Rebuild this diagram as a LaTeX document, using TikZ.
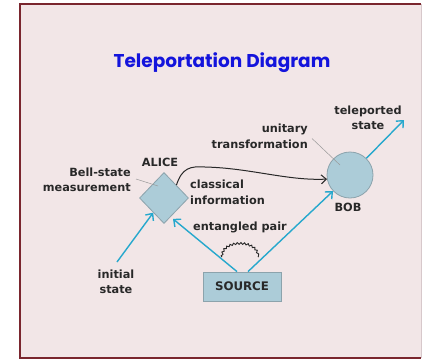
\documentclass[tikz,border=0pt]{standalone}
\usepackage{fontspec}
\setmainfont{DejaVu Sans}
\newfontfamily\titlefont{Poppins}
\usetikzlibrary{shapes.geometric,arrows.meta,decorations.pathmorphing,calc}

\definecolor{panel}{RGB}{242,230,231}
\definecolor{framered}{RGB}{122,38,46}
\definecolor{frameside}{RGB}{215,200,203}
\definecolor{qblue}{RGB}{38,168,205}
\definecolor{shapefill}{RGB}{172,204,216}
\definecolor{shapeedge}{RGB}{140,163,172}
\definecolor{ink}{RGB}{40,40,40}
\definecolor{titleblue}{RGB}{20,20,220}

\begin{document}
\begin{tikzpicture}[x=1pt,y=-1pt,
  lbl/.style={inner sep=0pt, text=ink, font=\bfseries\fontsize{11.3}{15.5}\selectfont},
  party/.style={fill=shapefill, draw=shapeedge, line width=0.8pt, inner sep=0pt},
  qarrow/.style={draw=qblue, line width=1.4pt,
    -{Straight Barb[length=5.5pt,width=10pt,line width=1.4pt]}},
  carrow/.style={draw=ink, line width=1pt,
    -{Straight Barb[length=5pt,width=9pt,line width=1pt]}},
  pointer/.style={draw=gray!80, line width=0.5pt}]

\useasboundingbox (0,0) rectangle (423,360);

% panel and its frame
\fill[panel] (20,4) rectangle (421,358);
\draw[frameside, line width=1pt] (421,4) -- (421,358);
\draw[framered, line width=2pt] (421,4) -- (20,4) -- (20,358) -- (421,358);

% title
\node[font=\titlefont\bfseries\fontsize{18.5}{18.5}\selectfont, text=titleblue]
  (title) at (222,63) {Teleportation Diagram};

% parties
\node[party, shape=diamond, minimum width=49pt, minimum height=51pt] (alice) at (164,198) {};
\node[party, circle, minimum size=46pt] (bob) at (350,175) {};
\node[party, rectangle, minimum width=78pt, minimum height=29pt,
      font=\bfseries\fontsize{11.8}{12}\selectfont, text=ink] (src) at (242,286.5) {SOURCE};

% labels
\node[lbl] (alicelbl) at (160,162) {ALICE};
\node[lbl] (boblbl) at (348,207) {BOB};
\node[lbl, align=right, anchor=east] (bell) at (131,180) {Bell-state\\measurement};
\node[lbl, align=left, anchor=west] (classical) at (190,192.5) {classical\\information};
\node[lbl] (pair) at (240,227) {entangled pair};
\node[lbl, align=right, anchor=east] (unitary) at (308,136.5) {unitary\\transformation};
\node[lbl, align=center] (teleported) at (368,118) {teleported\\state};
\node[lbl, align=center] (initial) at (116,282) {initial\\state};

% free ends of the quantum channels
\coordinate (init) at (117,262);
\coordinate (out) at (404,120);
\coordinate (srcL) at ($(src.north)+(-5,0)$);
\coordinate (srcR) at ($(src.north)+(6,0)$);
\coordinate (aliceR) at ($(alice.south)+(9,-5)$);
\coordinate (arcL) at (222,257);
\coordinate (arcR) at (258,257);

% quantum channels
\draw[qarrow] (init) -- (alice);
\draw[qarrow] (srcL) -- (aliceR);
\draw[qarrow] (srcR) -- (bob);
\draw[qarrow] (bob) -- (out);

% entanglement mark above the source
\draw[ink, line width=0.9pt, decorate,
      decoration={snake, amplitude=0.9pt, segment length=3.6pt}]
  (arcL) .. controls +(0,-17) and +(0,-17) .. (arcR);

% classical channel
\draw[carrow] (alice.north east) .. controls (182,168) and (190,166) .. (205,167)
  .. controls (250,168) and (288,181) .. (bob.190);

% pointer lines
\draw[pointer] ($(bell.east)+(5,-1)$) -- ($(alice.center)+(-6,-12)$);
\draw[pointer] ($(unitary.east)+(4,2)$) -- ($(bob.center)+(-10,-10)$);
\end{tikzpicture}
\end{document}
